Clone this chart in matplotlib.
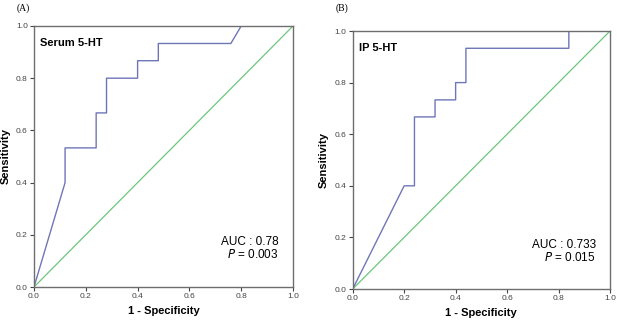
import matplotlib
matplotlib.use("Agg")
import matplotlib.pyplot as plt

plt.rcParams['font.family'] = ['Liberation Sans', 'DejaVu Sans']

# Panel A: Serum 5-HT ROC
fpr_a = [0.0, 0.12, 0.12, 0.24, 0.24, 0.28, 0.28, 0.40, 0.40, 0.48, 0.48, 0.76, 0.80, 1.0]
tpr_a = [0.0, 0.40, 0.533, 0.533, 0.667, 0.667, 0.80, 0.80, 0.867, 0.867, 0.933, 0.933, 1.0, 1.0]
# Panel B: IP 5-HT ROC
fpr_b = [0.0, 0.20, 0.24, 0.24, 0.32, 0.32, 0.40, 0.40, 0.44, 0.44, 0.84, 0.84, 1.0]
tpr_b = [0.0, 0.40, 0.40, 0.667, 0.667, 0.733, 0.733, 0.80, 0.80, 0.933, 0.933, 1.0, 1.0]

ticks = [0.0, 0.2, 0.4, 0.6, 0.8, 1.0]
tick_labels = ["0.0", "0.2", "0.4", "0.6", "0.8", "1.0"]

panels = [
    dict(fpr=fpr_a, tpr=tpr_a, title="Serum 5-HT", auc="AUC : 0.78", p="0.003", tag="(A)",
         pos=[34/617, 1-287/321, 259/617, 261/321]),
    dict(fpr=fpr_b, tpr=tpr_b, title="IP 5-HT", auc="AUC : 0.733", p="0.015", tag="(B)",
         pos=[352.7/617, 1-289/321, 257.3/617, 258/321]),
]

fig = plt.figure(figsize=(6.17, 3.21), dpi=100)
blue = "#6f76b8"
green = "#6cc67c"
frame = "#6e6e6e"

for pn in panels:
    ax = fig.add_axes(pn["pos"])
    ax.plot([0, 1], [0, 1], color=green, lw=0.9)
    ax.plot(pn["fpr"], pn["tpr"], color=blue, lw=1.0)
    ax.set_xlim(0, 1)
    ax.set_ylim(0, 1)
    ax.set_xticks(ticks)
    ax.set_xticklabels(tick_labels)
    ax.set_yticks(ticks)
    ax.set_yticklabels(tick_labels)
    ax.tick_params(labelsize=6, colors="#444444", length=3, width=0.8, pad=1.5)
    for s in ax.spines.values():
        s.set_color(frame)
        s.set_linewidth(1.0)
    ax.set_xlabel("1 - Specificity", fontsize=8, fontweight="bold", labelpad=4)
    ax.set_ylabel("Sensitivity", fontsize=8, fontweight="bold", labelpad=4)
    ax.text(0.025, 0.955, pn["title"], transform=ax.transAxes, fontsize=8,
            fontweight="bold", va="top", ha="left")
    ax.text(0.945, 0.172, pn["auc"], transform=ax.transAxes, fontsize=8.5,
            ha="right", va="center")
    ax.text(0.945, 0.124, r"$\mathit{P}$ = " + pn["p"], transform=ax.transAxes, fontsize=8.5,
            ha="right", va="center")

fig.text(17/617, 1-8/321, "(A)", fontsize=7, family=["Liberation Serif"], va="center", ha="left")
fig.text(336/617, 1-8/321, "(B)", fontsize=7, family=["Liberation Serif"], va="center", ha="left")

fig.savefig("out.png", dpi=100)
